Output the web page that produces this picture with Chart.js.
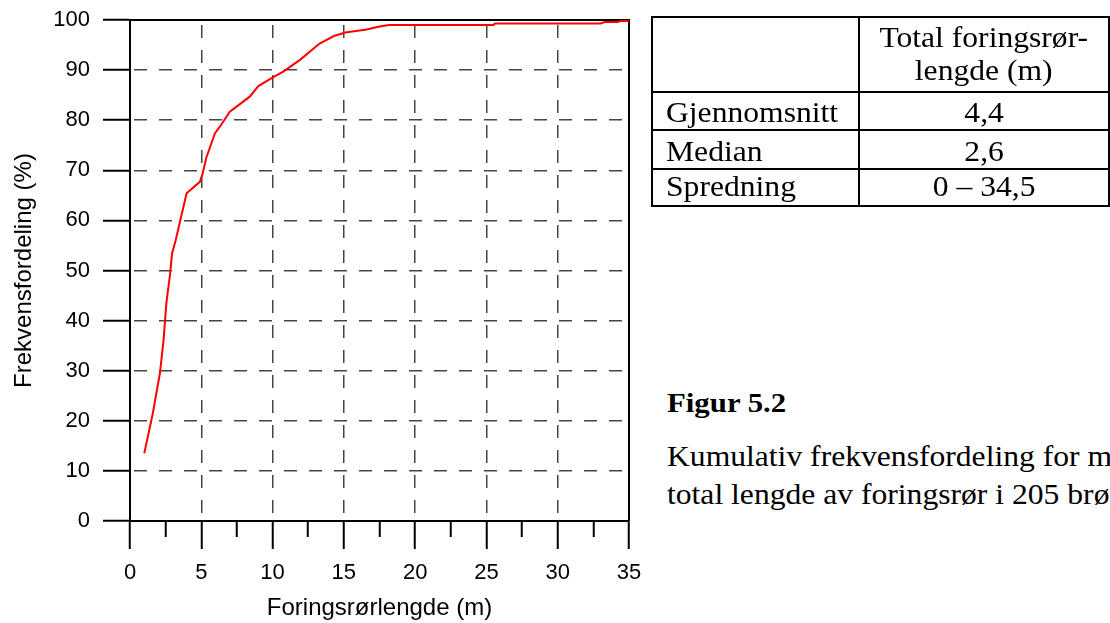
<!DOCTYPE html>
<html>
<head>
<meta charset="utf-8">
<script src="https://cdn.jsdelivr.net/npm/chart.js@4"></script>
<style>
  html, body { margin: 0; padding: 0; background: #fff; }
  body { width: 1110px; height: 623px; overflow: hidden; position: relative; }
  #chart { position: absolute; left: 0; top: 0; }
  #stats {
    position: absolute; left: 651px; top: 16px;
    border-collapse: collapse;
    font: 29px 'Liberation Serif', 'Times New Roman', serif;
    color: #000;
  }
  #stats td { border: 2px solid #000; padding: 0; vertical-align: top; line-height: 33px; }
  #stats td.name { width: 209px; padding-left: 13px; box-sizing: border-box; }
  #stats td.val { width: 252px; text-align: center; }
  #stats .s { display: inline-block; transform: scaleX(1.09); transform-origin: left center; white-space: nowrap; }
  #stats td.val .s { transform-origin: center center; }
  .fig { position: absolute; left: 667px; font-family: 'Liberation Serif', 'Times New Roman', serif; color: #000; white-space: nowrap; transform-origin: left center; }
  #figTitle { top: 387px; font-size: 28px; font-weight: bold; transform: scaleX(1.1); }
  #figText { top: 438px; font-size: 29px; line-height: 37.5px; transform: scaleX(1.09); }
</style>
</head>
<body>
<canvas id="chart" width="660" height="623"></canvas>

<table id="stats">
  <tr style="height:75px"><td class="name"></td><td class="val" style="padding-top:3px"><span class="s">Total foringsrør-<br>lengde (m)</span></td></tr>
  <tr style="height:36px"><td class="name" style="padding-top:3px"><span class="s">Gjennomsnitt</span></td><td class="val" style="padding-top:3px"><span class="s">4,4</span></td></tr>
  <tr style="height:37px"><td class="name" style="padding-top:4px"><span class="s">Median</span></td><td class="val" style="padding-top:4px"><span class="s">2,6</span></td></tr>
  <tr style="height:37px"><td class="name"><span class="s">Spredning</span></td><td class="val"><span class="s">0 – 34,5</span></td></tr>
</table>

<div class="fig" id="figTitle">Figur 5.2</div>
<div class="fig" id="figText">Kumulativ frekvensfordeling for m<br>total lengde av foringsrør i 205 brø</div>

<script>
// cumulative distribution of casing length
const lengthM = [1.0, 1.6, 2.1, 2.35, 2.55, 2.8, 2.95, 3.2, 3.5, 3.97, 4.9, 5.1, 5.35, 5.96, 6.3, 7.0, 7.8, 8.4, 9.0, 10.05, 10.75, 11.9, 13.3, 14.3, 15.1, 16.6, 17.5, 18.2, 25.5, 25.6, 33.0, 33.3, 34.2, 34.4, 35.0];
const cumPercent = [13.5, 21.5, 29.5, 36, 43.5, 49, 53.4, 56, 59.7, 65.4, 67.7, 69.4, 72.5, 77.4, 78.7, 81.7, 83.4, 84.7, 86.8, 88.6, 89.7, 92.0, 95.3, 96.8, 97.5, 98.1, 98.7, 99.0, 99.0, 99.3, 99.3, 99.6, 99.6, 99.8, 99.8];

const xLabelTicks = [0, 5, 10, 15, 20, 25, 30, 35];
const yLabelTicks = [0, 10, 20, 30, 40, 50, 60, 70, 80, 90, 100];

const xTitle = 'Foringsrørlengde (m)';
const yTitle = 'Frekvensfordeling (%)';

const axisFont = { family: "'Liberation Sans', Arial, sans-serif", size: 22 };
const titleFont = { family: "'Liberation Sans', Arial, sans-serif", size: 24 };

// closes the plot box on top and right
const frame = {
    id: 'frame',
    beforeDatasetsDraw(chart) {
        const { ctx, chartArea: a } = chart;
        ctx.save();
        ctx.strokeStyle = '#000';
        ctx.lineWidth = 2;
        ctx.beginPath();
        ctx.moveTo(a.left, a.top);
        ctx.lineTo(a.right, a.top);
        ctx.lineTo(a.right, a.bottom);
        ctx.stroke();
        ctx.restore();
    }
};

function isMajor(v) {
    return xLabelTicks.includes(v);
}

new Chart(document.getElementById('chart'), {
    type: 'line',
    data: {
        datasets: [{
            data: lengthM.map((x, i) => ({ x: x, y: cumPercent[i] })),
            borderColor: '#ff0000',
            borderWidth: 2,
            pointRadius: 0,
            tension: 0,
            fill: false
        }]
    },
    options: {
        responsive: false,
        animation: false,
        layout: { padding: { top: 20, right: 31, bottom: 0, left: 0 } },
        plugins: { legend: { display: false }, tooltip: { enabled: false } },
        scales: {
            x: {
                type: 'linear',
                min: 0,
                max: 35,
                afterFit: (scale) => { scale.height = 102; },
                ticks: {
                    stepSize: 2.5,
                    autoSkip: false,
                    maxRotation: 0,
                    padding: 11,
                    color: '#000',
                    font: axisFont,
                    callback: (v) => isMajor(v) ? String(v) : ''
                },
                grid: {
                    color: (c) => c.tick && isMajor(c.tick.value) ? '#454545' : 'rgba(0,0,0,0)',
                    lineWidth: 1.5,
                    tickLength: 28,
                    tickWidth: 2,
                    tickColor: '#000',
                    tickBorderDash: (c) => c.tick && isMajor(c.tick.value) ? [] : [15, 100]
                },
                border: { color: '#000', width: 2, dash: [13, 12], dashOffset: 20 },
                title: { display: true, text: xTitle, color: '#000', font: titleFont, padding: { top: 0, bottom: 0 } }
            },
            y: {
                min: 0,
                max: 100,
                afterFit: (scale) => {
                    scale.width = 130;
                    // labels at the ends may overhang the plot box
                    scale.paddingTop = 0;
                    scale.paddingBottom = 0;
                },
                ticks: {
                    stepSize: 10,
                    padding: 13,
                    color: '#000',
                    font: axisFont,
                    callback: (v) => yLabelTicks.includes(v) ? String(v) : ''
                },
                grid: {
                    color: '#454545',
                    lineWidth: 1.5,
                    tickLength: 27,
                    tickWidth: 2,
                    tickColor: '#000'
                },
                border: { color: '#000', width: 2, dash: [13, 12], dashOffset: 22 },
                title: { display: true, text: yTitle, color: '#000', font: titleFont, padding: { top: 10, bottom: 0 } }
            }
        }
    },
    plugins: [frame]
});
</script>
</body>
</html>
